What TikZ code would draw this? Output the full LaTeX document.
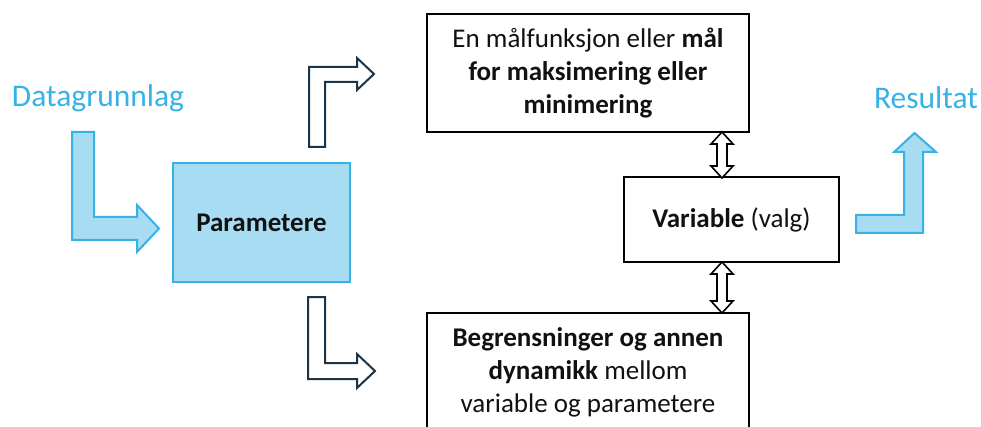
\documentclass[tikz,border=0pt]{standalone}
\usepackage{fontspec}
\setmainfont{Carlito}
\usetikzlibrary{calc}
\definecolor{skyblue}{HTML}{35B2E6}
\definecolor{skyfill}{HTML}{A8DCF3}
\definecolor{navy}{HTML}{1B3447}
\definecolor{ink}{HTML}{111111}
\begin{document}
\begin{tikzpicture}[x=1pt,y=-1pt,
  boxnode/.style={draw=black, line width=2pt, fill=white, inner sep=0pt,
    align=center, text=ink, font=\fontsize{27}{33}\selectfont},
  parnode/.style={draw=skyblue, line width=2pt, fill=skyfill, inner sep=0pt,
    align=center, text=ink, font=\fontsize{27}{33}\selectfont\bfseries},
  bluelabel/.style={text=skyblue, inner sep=0pt, font=\fontsize{31.5}{36}\selectfont},
  bluearrow/.style={draw=skyblue, fill=skyfill, line width=2pt, line join=miter},
  darkarrow/.style={draw=navy, fill=white, line width=2pt, line join=miter},
  dblarrow/.style={draw=black, fill=white, line width=1.6pt, line join=miter}]
\useasboundingbox (0,0) rectangle (981,427);
\clip (0,0) rectangle (981,427);

% labels
\node[bluelabel] (data) at (98,98) {Datagrunnlag};
\node[bluelabel] (res) at (926,98) {Resultat};

% boxes
\node[parnode, minimum width=177pt, minimum height=119pt] (par) at (261.5,222.5) {Parametere};
\node[boxnode, minimum width=322pt, minimum height=118pt] (mal) at (588,73)
  {En målfunksjon eller \textbf{mål}\\ \textbf{for maksimering eller}\\ \textbf{minimering}};
\node[boxnode, minimum width=215pt, minimum height=85pt] (var) at (731.5,219.5)
  {\textbf{Variable} (valg)};
\node[boxnode, minimum width=322pt, minimum height=118pt] (beg) at (588,372)
  {\textbf{Begrensninger og annen}\\ \textbf{dynamikk} mellom\\ variable og parametere};

% blue L arrow: Datagrunnlag -> Parametere
\draw[bluearrow] (72,132) -- (94,132) -- (94,217) -- (137,217) -- (137,205)
  -- (159,228.5) -- (137,252) -- (137,240) -- (72,240) -- cycle;

% blue L arrow: Variable -> Resultat
\draw[bluearrow] (856,215) -- (904,215) -- (904,152) -- (894,152) -- (914.5,133)
  -- (936,152) -- (923,152) -- (923,233) -- (856,233) -- cycle;

% dark outline arrows from Parametere
\draw[darkarrow] (309,147) -- (309,67) -- (357,67) -- (357,58) -- (374,74)
  -- (357,90) -- (357,82) -- (325,82) -- (325,147) -- cycle;
\draw[darkarrow] (308,297) -- (325,297) -- (325,363) -- (357,363) -- (357,354)
  -- (375,371) -- (357,388) -- (357,379) -- (308,379) -- cycle;

% double arrows
\coordinate (d1t) at (722,132);
\coordinate (d1b) at (722,178);
\coordinate (d2t) at (722,262);
\coordinate (d2b) at (722,313);
\draw[dblarrow] (d1t) -- ++(11,12) -- ++(-6,0) -- ($(d1b)+(5,-12)$) -- ++(6,0)
  -- (d1b) -- ++(-11,-12) -- ++(6,0) -- ($(d1t)+(-5,12)$) -- ++(-6,0) -- cycle;
\draw[dblarrow] (d2t) -- ++(11,12) -- ++(-6,0) -- ($(d2b)+(5,-12)$) -- ++(6,0)
  -- (d2b) -- ++(-11,-12) -- ++(6,0) -- ($(d2t)+(-5,12)$) -- ++(-6,0) -- cycle;
\end{tikzpicture}
\end{document}
